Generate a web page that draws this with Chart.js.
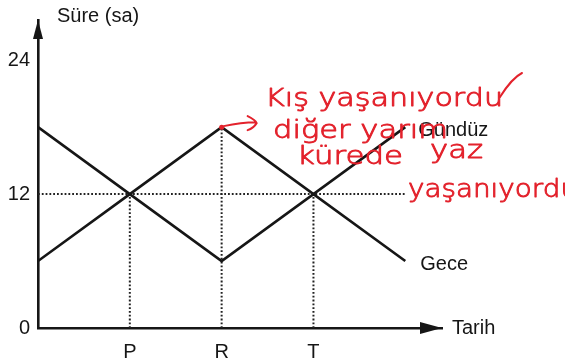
<!DOCTYPE html>
<html>
<head>
<meta charset="utf-8">
<script src="https://cdn.jsdelivr.net/npm/chart.js@4/dist/chart.umd.min.js"></script>
<style>
  html, body { margin: 0; padding: 0; background: #fff; }
  #wrap { position: relative; width: 565px; height: 361px; }
</style>
</head>
<body>
<div id="wrap"><canvas id="chart"></canvas></div>
<script>
// dates on the x axis (0 = origin), only P, R, T are labelled
const dates = [0, 1, 2, 3, 4];
const dateLabels = ['', 'P', 'R', 'T', ''];
// day / night length in hours
const gunduz = [6, 12, 18, 12, 18];
const gece = [18, 12, 6, 12, 6];
const yTicks = [0, 12, 24];
const guideDates = [1, 2, 3];

// handwritten note (red pen)
const noteLines = ['Kış yaşanıyordu', 'diğer yarım', 'kürede', 'yaz', 'yaşanıyordu'];

const INK = '#161616';
const PEN = '#e3222c';
const FONT = '"Liberation Sans", Arial, sans-serif';

const toPoints = (vals) => dates.map((d, i) => ({ x: d, y: vals[i] }));

// dotted guide lines: y = 12 across, and verticals down from the curves
const guides = [{
  data: [{ x: dates[0], y: 12 }, { x: dates[dates.length - 1], y: 12 }]
}];
guideDates.forEach(d => {
  const i = dates.indexOf(d);
  guides.push({ data: [{ x: d, y: 0 }, { x: d, y: Math.max(gunduz[i], gece[i]) }] });
});

const guideSets = guides.map(g => ({
  data: g.data,
  borderColor: '#222',
  borderWidth: 2,
  borderDash: [1.8, 2],
  pointRadius: 0,
  showLine: true,
  order: 2
}));

const overlay = {
  id: 'overlay',
  afterDatasetsDraw(chart) {
    const { ctx, chartArea: a, scales: { x, y } } = chart;
    ctx.save();
    ctx.fillStyle = INK;

    // axis arrow heads
    ctx.beginPath();
    ctx.moveTo(a.left, a.top);
    ctx.lineTo(a.left - 5, a.top + 19);
    ctx.lineTo(a.left + 5, a.top + 19);
    ctx.closePath();
    ctx.fill();
    ctx.beginPath();
    ctx.moveTo(a.right, a.bottom);
    ctx.lineTo(a.right - 22, a.bottom - 6);
    ctx.lineTo(a.right - 22, a.bottom + 6);
    ctx.closePath();
    ctx.fill();

    // axis titles and series names
    ctx.font = '20px ' + FONT;
    ctx.textBaseline = 'middle';
    ctx.textAlign = 'left';
    ctx.fillText('Süre (sa)', a.left + 19, 16);
    ctx.fillText('Tarih', a.right + 10, a.bottom);
    const last = dates.length - 1;
    ctx.fillText('Gündüz', x.getPixelForValue(dates[last]) + 13, y.getPixelForValue(gunduz[last]) + 3);
    ctx.fillText('Gece', x.getPixelForValue(dates[last]) + 15, y.getPixelForValue(gece[last]) + 3);

    // red pen note
    ctx.fillStyle = PEN;
    ctx.strokeStyle = PEN;
    ctx.lineWidth = 2;
    ctx.lineCap = 'round';
    const px = x.getPixelForValue(2), py = y.getPixelForValue(18);
    ctx.beginPath();
    ctx.arc(px, py, 2.5, 0, Math.PI * 2);
    ctx.fill();
    ctx.beginPath();
    ctx.moveTo(px + 2, py - 1);
    ctx.quadraticCurveTo(px + 20, py - 5, px + 34, py - 5);
    ctx.moveTo(px + 26, py - 11);
    ctx.quadraticCurveTo(px + 34, py - 7, px + 35, py - 4);
    ctx.quadraticCurveTo(px + 32, py + 1, px + 26, py + 3);
    ctx.stroke();

    ctx.font = '200 25px "DejaVu Sans ExtraLight", "DejaVu Sans", sans-serif';
    ctx.lineWidth = 0.9;
    ctx.lineJoin = 'round';
    const spots = [
      [265, 99, 238],
      [273, 131, 175],
      [297, 157, 106],
      [430, 151, 53],
      [408, 190, 170]
    ];
    noteLines.forEach((t, i) => {
      const [tx, ty, w] = spots[i];
      const sx = w / ctx.measureText(t).width;
      ctx.save();
      ctx.translate(tx, ty);
      ctx.scale(sx, 1);
      ctx.fillText(t, 0, 0);
      ctx.strokeText(t, 0, 0);
      ctx.restore();
    });
    // trailing pen stroke after the first line
    ctx.lineWidth = 2;
    ctx.beginPath();
    ctx.moveTo(500, 97);
    ctx.quadraticCurveTo(512, 78, 522, 73);
    ctx.stroke();
    ctx.restore();
  }
};

new Chart(document.getElementById('chart'), {
  type: 'scatter',
  data: {
    datasets: [
      {
        label: 'Gündüz',
        data: toPoints(gunduz),
        borderColor: INK,
        borderWidth: 2.6,
        pointRadius: 0,
        showLine: true,
        order: 1
      },
      {
        label: 'Gece',
        data: toPoints(gece),
        borderColor: INK,
        borderWidth: 2.6,
        pointRadius: 0,
        showLine: true,
        order: 1
      },
      ...guideSets
    ]
  },
  options: {
    responsive: true,
    maintainAspectRatio: false,
    animation: false,
    layout: { padding: { top: 8, right: 123, left: 0, bottom: 0 } },
    plugins: {
      legend: { display: false },
      tooltip: { enabled: false }
    },
    scales: {
      x: {
        type: 'linear',
        min: 0,
        max: 4.4,
        grid: { display: false, drawTicks: false },
        border: { display: true, color: INK, width: 2.6 },
        afterBuildTicks: s => { s.ticks = guideDates.map(v => ({ value: v })); },
        afterFit: s => { s.height = 33; },
        ticks: {
          color: INK,
          padding: 12,
          font: { family: FONT, size: 20 },
          callback: v => dateLabels[dates.indexOf(v)]
        }
      },
      y: {
        min: 0,
        max: 27.6,
        grid: { display: false, drawTicks: false },
        border: { display: true, color: INK, width: 2.6 },
        afterBuildTicks: s => { s.ticks = yTicks.map(v => ({ value: v })); },
        afterFit: s => { s.width = 38; },
        ticks: {
          color: INK,
          padding: 8,
          font: { family: FONT, size: 20 }
        }
      }
    }
  },
  plugins: [overlay]
});
</script>
</body>
</html>
